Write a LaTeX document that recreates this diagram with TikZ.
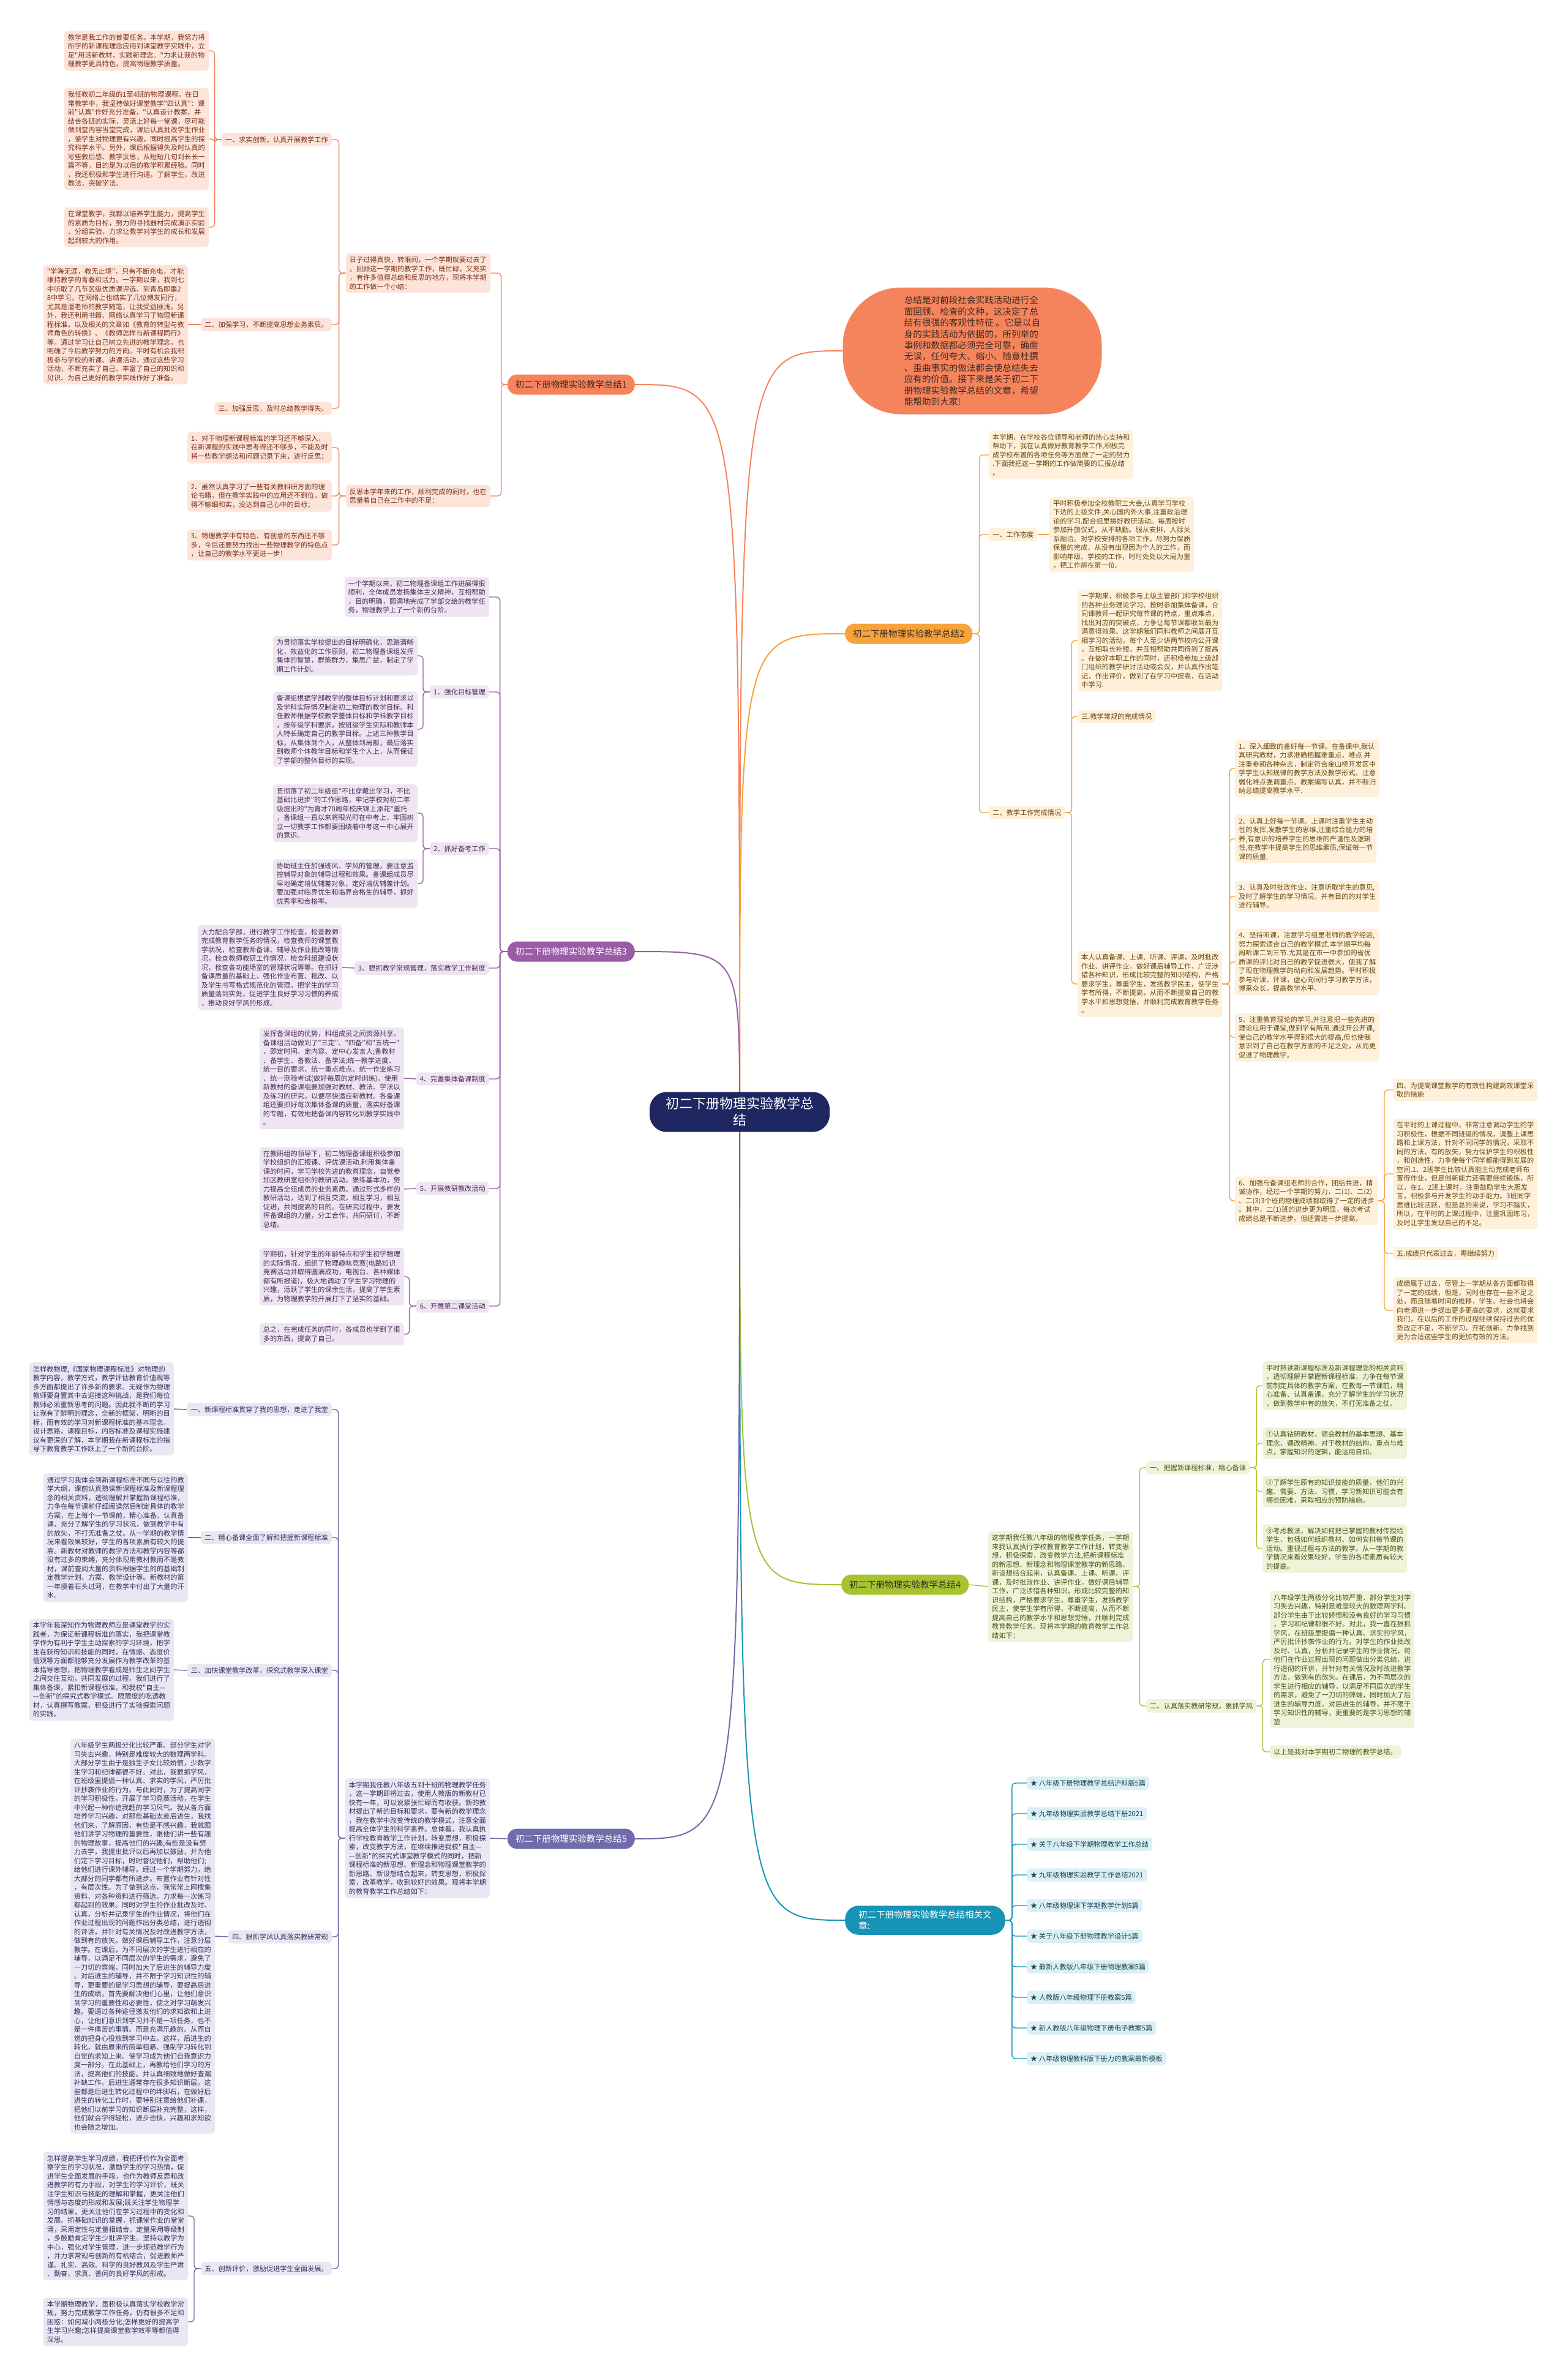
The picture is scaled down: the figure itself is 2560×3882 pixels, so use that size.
\documentclass[tikz,border=0pt]{standalone}
\usepackage{fontspec}
\setmainfont{Noto Sans CJK SC}
\newfontfamily\cjk{Noto Sans CJK SC}
\pgfdeclarelayer{background}
\pgfsetlayers{background,main}
\definecolor{rootc}{HTML}{1E2761}
\definecolor{c1}{HTML}{F5845C}\definecolor{c1f}{HTML}{FDE4DA}\definecolor{c1t}{HTML}{7A3218}
\definecolor{c2}{HTML}{F7A33B}\definecolor{c2f}{HTML}{FEF0DA}\definecolor{c2t}{HTML}{6A4A10}
\definecolor{c3}{HTML}{9A5BA7}\definecolor{c3f}{HTML}{EFE5F2}\definecolor{c3t}{HTML}{4A2B55}
\definecolor{c4}{HTML}{A6C430}\definecolor{c4f}{HTML}{EEF3D9}\definecolor{c4t}{HTML}{4C5514}
\definecolor{c5}{HTML}{706BAA}\definecolor{c5f}{HTML}{E8E7F3}\definecolor{c5t}{HTML}{33335C}
\definecolor{c6}{HTML}{1794B5}\definecolor{c6f}{HTML}{DAF0F6}\definecolor{c6t}{HTML}{1D4250}
\definecolor{darktx}{HTML}{3C2A22}
\tikzset{
  box/.style={rounded corners=5pt, align=left, inner xsep=6pt, inner ysep=5.5pt, font=\cjk\fontsize{11.2}{14.5}\selectfont},
  topic/.style={rounded corners=16pt, inner xsep=13pt, inner ysep=8pt, minimum height=33pt, font=\cjk\fontsize{14.5}{18}\selectfont},
  box1/.style={box, fill=c1f, text=c1t},
  box2/.style={box, fill=c2f, text=c2t},
  box3/.style={box, fill=c3f, text=c3t},
  box4/.style={box, fill=c4f, text=c4t},
  box5/.style={box, fill=c5f, text=c5t},
  box6/.style={box, fill=c6f, text=c6t},
  curve/.style={line width=2pt},
  link/.style={line width=1.4pt, rounded corners=6pt}
}
\begin{document}
\begin{tikzpicture}[x=1pt, y=-1pt]
\useasboundingbox (0,0) rectangle (2560,3882);

% centre
\node[fill=rootc, text=white, rounded corners=28pt, align=center, inner xsep=26pt, inner ysep=9pt, font=\cjk\fontsize{22}{27}\selectfont] (root) at (1208,1816) {初二下册物理实验教学总\\结};

% intro
\node[fill=c1, text=darktx, rounded corners=95pt, align=left, minimum width=423pt, minimum height=207pt, font=\cjk\fontsize{14.6}{18.4}\selectfont] (intro) at (1588,573) {总结是对前段社会实践活动进行全\\面回顾、检查的文种，这决定了总\\结有很强的客观性特征 。它是以自\\身的实践活动为依据的，所列举的\\事例和数据都必须完全可靠，确凿\\无误，任何夸大、缩小、随意杜撰\\、歪曲事实的做法都会使总结失去\\应有的价值。接下来是关于初二下\\册物理实验教学总结的文章，希望\\能帮助到大家!};

% branch 1
\node[topic, fill=c1, text=darktx, anchor=east] (b1) at (1037,628) {初二下册物理实验教学总结1};
\node[box1, anchor=east] (b1a) at (801,446) {日子过得真快，转眼间，一个学期就要过去了\\。回顾这一学期的教学工作，既忙碌，又充实\\，有许多值得总结和反思的地方，现将本学期\\的工作做一个小结：};
\node[box1, anchor=east] (b1a1) at (542,228) {一、求实创新，认真开展教学工作};
\node[box1, anchor=east] (b1a1a) at (341,83) {教学是我工作的首要任务。本学期，我努力将\\所学的新课程理念应用到课堂教学实践中，立\\足"用活新教材，实践新理念。"力求让我的物\\理教学更具特色，提高物理教学质量。};
\node[box1, anchor=east] (b1a1b) at (341,227) {我任教初二年级的1至4班的物理课程。在日\\常教学中，我坚持做好课堂教学"四认真"：课\\前"认真"作好充分准备，"认真设计教案，并\\结合各班的实际，灵活上好每一堂课，尽可能\\做到堂内容当堂完成，课后认真批改学生作业\\，使学生对物理更有兴趣，同时提高学生的探\\究科学水平。另外，课后根据得失及时认真的\\写些教后感、教学反思，从短短几句到长长一\\篇不等，目的是为以后的教学积累经验。同时\\，我还积极和学生进行沟通，了解学生，改进\\教法，突破学法。};
\node[box1, anchor=east] (b1a1c) at (341,371) {在课堂教学，我都以培养学生能力，提高学生\\的素质为目标，努力的寻找器材完成演示实验\\、分组实验，力求让教学对学生的成长和发展\\起到较大的作用。};
\node[box1, anchor=east] (b1a2) at (542,530) {二、加强学习，不断提高思想业务素质。};
\node[box1, anchor=east] (b1a2a) at (307,530) {"学海无涯，教无止境"，只有不断充电，才能\\维持教学的青春和活力。一学期以来，我到七\\中听取了几节区级优质课评选、到青岛即墨2\\8中学习，在网络上也结实了几位博友同行，\\尤其是潘老师的教学随笔，让我受益匪浅。另\\外，我还利用书籍、网络认真学习了物理新课\\程标准，以及相关的文章如《教育的转型与教\\师角色的转换》、《教师怎样与新课程同行》\\等。通过学习让自己树立先进的教学理念，也\\明确了今后教学努力的方向。平时有机会我积\\极参与学校的听课、讲课活动，通过这些学习\\活动，不断充实了自己、丰富了自己的知识和\\见识、为自己更好的教学实践作好了准备。};
\node[box1, anchor=east] (b1a3) at (542,667) {三、加强反思，及时总结教学得失。};
\node[box1, anchor=east] (b1b) at (801,810) {反思本学年来的工作，顺利完成的同时，也在\\思量着自己在工作中的不足：};
\node[box1, anchor=east] (b1b1) at (542,731) {1、对于物理新课程标准的学习还不够深入，\\在新课程的实践中思考得还不够多，不能及时\\将一些教学想法和问题记录下来，进行反思；};
\node[box1, anchor=east] (b1b2) at (542,810) {2、虽然认真学习了一些有关教科研方面的理\\论书籍，但在教学实践中的应用还不到位，做\\得不够细和实，没达到自己心中的目标；};
\node[box1, anchor=east] (b1b3) at (542,890) {3、物理教学中有特色、有创意的东西还不够\\多，今后还要努力找出一些物理教学的特色点\\，让自己的教学水平更进一步！};

% branch 2
\node[topic, fill=c2, text=darktx, anchor=west] (b2) at (1380,1035) {初二下册物理实验教学总结2};
\node[box2, anchor=west] (b2a) at (1615,743) {本学期，在学校各位领导和老师的热心支持和\\帮助下，我在认真做好教育教学工作,积极完\\成学校布置的各项任务等方面做了一定的努力\\.下面我把这一学期的工作做简要的汇报总结\\。};
\node[box2, anchor=west] (b2b) at (1615,873) {一、工作态度};
\node[box2, anchor=west] (b2b1) at (1714,873) {平时积极参加全校教职工大会,认真学习学校\\下达的上级文件,关心国内外大事,注重政治理\\论的学习.配合组里搞好教研活动。每周按时\\参加升旗仪式，从不缺勤。服从安排，人际关\\系融洽。对学校安排的各项工作，尽努力保质\\保量的完成，从没有出现因为个人的工作，而\\影响年级、学校的工作，时时处处以大局为重\\，把工作房在第一位。};
\node[box2, anchor=west] (b2c) at (1615,1327) {二、教学工作完成情况};
\node[box2, anchor=west] (b2c1) at (1760,1046) {一学期来，积极参与上级主管部门和学校组织\\的各种业务理论学习、按时参加集体备课，合\\同课教师一起研究每节课的特点，重点难点，\\找出对应的突破点，力争让每节课都收到最为\\满意得效果、这学期我们同科教师之间展开互\\相学习的活动，每个人至少讲两节校内公开课\\，互相取长补短，并互相帮助共同得到了提高\\。在做好本职工作的同时，还积极参加上级部\\门组织的教学研讨活动或会议，并认真作出笔\\记，作出评价，做到了在学习中提高，在活动\\中学习.};
\node[box2, anchor=west] (b2c2) at (1760,1170) {三.教学常规的完成情况};
\node[box2, anchor=west] (b2c3) at (1760,1607) {本人认真备课、上课、听课、评课，及时批改\\作业、讲评作业，做好课后辅导工作，广泛涉\\猎各种知识，形成比较完整的知识结构，严格\\要求学生，尊重学生，发扬教学民主，使学生\\学有所得，不断提高，从而不断提高自己的教\\学水平和思想觉悟，并顺利完成教育教学任务\\。};
\node[box2, anchor=west] (b2d1) at (2017,1255) {1、深入细致的备好每一节课。在备课中,我认\\真研究教材，力求准确把握难重点，难点.并\\注重参阅各种杂志，制定符合金山桥开发区中\\学学生认知规律的教学方法及教学形式。注意\\弱化难点强调重点。教案编写认真，并不断归\\纳总结提高教学水平.};
\node[box2, anchor=west] (b2d2) at (2017,1370) {2、认真上好每一节课。上课时注重学生主动\\性的发挥,发散学生的思维,注重综合能力的培\\养,有意识的培养学生的思维的严谨性及逻辑\\性,在教学中提高学生的思维素质,保证每一节\\课的质量.};
\node[box2, anchor=west] (b2d3) at (2017,1464) {3、认真及时批改作业，注意听取学生的意见,\\及时了解学生的学习情况，并有目的的对学生\\进行辅导。};
\node[box2, anchor=west] (b2d4) at (2017,1571) {4、坚持听课，注意学习组里老师的教学经验,\\努力探索适合自己的教学模式.本学期平均每\\周听课二到三节.尤其是在市一中参加的省优\\质课的评比对自己的教学促进很大，使我了解\\了现在物理教学的动向和发展趋势。平时积极\\参与听课、评课，虚心向同行学习教学方法，\\博采众长，提高教学水平。};
\node[box2, anchor=west] (b2d5) at (2017,1694) {5、注重教育理论的学习,并注意把一些先进的\\理论应用于课堂,做到学有所用.通过开公开课,\\使自己的教学水平得到很大的提高,但也使我\\意识到了自己在教学方面的不足之处，从而更\\促进了物理教学。};
\node[box2, anchor=west] (b2d6) at (2017,1961) {6、加强与备课组老师的合作，团结共进，精\\诚协作，经过一个学期的努力，二(1)、二(2)\\、二(3)3个班的物理成绩都取得了一定的进步\\。其中，二(1)班的进步更为明显，每次考试\\成绩总是不断进步。但还需进一步提高。};
\node[box2, anchor=west] (b2e1) at (2275,1780) {四、为提高课堂教学的有效性构建高效课堂采\\取的措施};
\node[box2, anchor=west] (b2e2) at (2275,1917) {在平时的上课过程中，非常注意调动学生的学\\习积极性，根据不同班级的情况，调整上课思\\路和上课方法，针对不同同学的情况，采取不\\同的方法，有的放矢，努力保护学生的积极性\\，和创造性，力争使每个同学都能得到发展的\\空间.1、2班学生比较认真能主动完成老师布\\置得作业，但是创新能力还需要继续锻炼，所\\以，在1、2班上课时，注重鼓励学生大胆发\\言，积极参与开发学生的动手能力。3班同学\\思维比较活跃，但是总的来说，学习不踏实，\\所以，在平时的上课过程中，注重巩固练习，\\及时让学生发现自己的不足。};
\node[box2, anchor=west] (b2e3) at (2275,2047) {五.成绩只代表过去，需继续努力};
\node[box2, anchor=west] (b2e4) at (2275,2140) {成绩属于过去，尽管上一学期从各方面都取得\\了一定的成绩，但是，同时也存在一些不足之\\处，而且随着时间的推移，学生、社会也将会\\向老师进一步提出更多更高的要求，这就要求\\我们，在以后的工作的过程继续保持过去的优\\势改正不足，不断学习，开拓创新，力争找到\\更为合适这些学生的更加有效的方法。};

% branch 3
\node[topic, fill=c3, text=white, anchor=east] (b3) at (1037,1554) {初二下册物理实验教学总结3};
\node[box3, anchor=east] (b3a) at (799,975) {一个学期以来，初二物理备课组工作进展得很\\顺利，全体成员发扬集体主义精神，互相帮助\\，目的明确，圆满地完成了学部交给的教学任\\务，物理教学上了一个新的台阶。};
\node[box3, anchor=east] (b3b) at (799,1130) {1、强化目标管理};
\node[box3, anchor=east] (b3b1) at (682,1071) {为贯彻落实学校提出的目标明确化，思路清晰\\化，效益化的工作原则，初二物理备课组发挥\\集体的智慧，群策群力，集思广益，制定了学\\期工作计划。};
\node[box3, anchor=east] (b3b2) at (682,1191) {备课组根据学部教学的整体目标计划和要求以\\及学科实际情况制定初二物理的教学目标。科\\任教师根据学校教学整体目标和学科教学目标\\，按年级学科要求，按班级学生实际和教师本\\人特长确定自己的教学目标。上述三种教学目\\标，从集体到个人，从整体到局部，最后落实\\到教师个体教学目标和学生个人上，从而保证\\了学部的整体目标的实现。};
\node[box3, anchor=east] (b3c) at (799,1386) {2、抓好备考工作};
\node[box3, anchor=east] (b3c1) at (682,1328) {贯彻落了初二年级组"不比穿戴比学习，不比\\基础比进步"的工作思路，牢记学校对初二年\\级提出的"为育才70周年校庆锦上添花"重托\\，备课组一直以来将眼光盯在中考上，牢固树\\立一切教学工作都要围绕着中考这一中心展开\\的意识。};
\node[box3, anchor=east] (b3c2) at (682,1443) {协助班主任加强班风、学风的管理，要注意监\\控辅导对象的辅导过程和效果。备课组成员尽\\早地确定培优辅差对象，定好培优辅差计划。\\要加强对临界优生和临界合格生的辅导，抓好\\优秀率和合格率。};
\node[box3, anchor=east] (b3d) at (799,1581) {3、狠抓教学常规管理，落实教学工作制度};
\node[box3, anchor=east] (b3d1) at (559,1580) {大力配合学部，进行教学工作检查，检查教师\\完成教育教学任务的情况，检查教师的课堂教\\学状况，检查教师备课、辅导及作业批改等情\\况，检查教师教研工作情况，检查科组建设状\\况，检查各功能场室的管理状况等等。在抓好\\备课质量的基础上，强化作业布置、批改、以\\及学生书写格式规范化的管理。把学生的学习\\质量落到实处，促进学生良好学习习惯的养成\\，推动良好学风的形成。};
\node[box3, anchor=east] (b3e) at (799,1762) {4、完善集体备课制度};
\node[box3, anchor=east] (b3e1) at (660,1761) {发挥备课组的优势，科组成员之间资源共享。\\备课组活动做到了"三定"、"四备"和"五统一"\\，即定时间、定内容、定中心发言人;备教材\\、备学生、备教法、备学法;统一教学进度、\\统一目的要求、统一重点难点、统一作业练习\\、统一测验考试(做好每周的定时训练)。使用\\新教材的备课组要加强对教材、教法、学法以\\及练习的研究，以便尽快适应新教材。各备课\\组还要抓好每次集体备课的质量，落实好备课\\的专题，有效地把备课内容转化到教学实践中\\。};
\node[box3, anchor=east] (b3f) at (799,1941) {5、开展教研教改活动};
\node[box3, anchor=east] (b3f1) at (660,1942) {在教研组的领导下，初二物理备课组积极参加\\学校组织的汇报课、评优课活动.利用集体备\\课的时间，学习学校先进的教育理念，自觉参\\加区教研室组织的教研活动，狠练基本功，努\\力提高全组成员的业务素质。通过形式多样的\\教研活动，达到了相互交流，相互学习，相互\\促进，共同提高的目的。在研究过程中，要发\\挥备课组的力量，分工合作，共同研讨，不断\\总结。};
\node[box3, anchor=east] (b3g) at (799,2133) {6、开展第二课堂活动};
\node[box3, anchor=east] (b3g1) at (660,2085) {学期初，针对学生的年龄特点和学生初学物理\\的实际情况，组织了物理趣味竞赛(电路知识\\竞赛活动并取得圆满成功，电视台、各种媒体\\都有所报道)，极大地调动了学生学习物理的\\兴趣，活跃了学生的课余生活，提高了学生素\\质，为物理教学的开展打下了坚实的基础。};
\node[box3, anchor=east] (b3g2) at (660,2179) {总之，在完成任务的同时，各成员也学到了很\\多的东西，提高了自己。};

% branch 4
\node[topic, fill=c4, text=darktx, anchor=west] (b4) at (1374,2588) {初二下册物理实验教学总结4};
\node[box4, anchor=west] (b4a) at (1614,2591) {这学期我任教八年级的物理教学任务，一学期\\来我认真执行学校教育教学工作计划，转变思\\想，积极探索，改变教学方法,把新课程标准\\的新思想、新理念和物理课堂教学的新思路、\\新设想结合起来，认真备课、上课、听课、评\\课，及时批改作业、讲评作业，做好课后辅导\\工作，广泛涉猎各种知识，形成比较完整的知\\识结构，严格要求学生，尊重学生，发扬教学\\民主，使学生学有所得，不断提高，从而不断\\提高自己的教学水平和思想觉悟，并顺利完成\\教育教学任务。现将本学期的教育教学工作总\\结如下：};
\node[box4, anchor=west] (b4b) at (1872,2397) {一、把握新课程标准，精心备课};
\node[box4, anchor=west] (b4b1) at (2062,2263) {平时熟读新课程标准及新课程理念的相关资料\\，透彻理解并掌握新课程标准，力争在每节课\\前制定具体的教学方案，在教每一节课前，精\\心准备、认真备课，充分了解学生的学习状况\\，做到教学中有的放矢，不打无准备之仗。};
\node[box4, anchor=west] (b4b2) at (2062,2357) {①认真钻研教材，领会教材的基本思想、基本\\理念，课改精神。对于教材的结构，重点与难\\点，掌握知识的逻辑，能运用自如。};
\node[box4, anchor=west] (b4b3) at (2062,2436) {②了解学生原有的知识技能的质量，他们的兴\\趣、需要、方法、习惯，学习新知识可能会有\\哪些困难，采取相应的预防措施。};
\node[box4, anchor=west] (b4b4) at (2062,2529) {③考虑教法，解决如何把已掌握的教材传授给\\学生，包括如何组织教材、如何安排每节课的\\活动。重视过程与方法的教学。从一学期的教\\学情况来看效果较好，学生的各项素质有较大\\的提高。};
\node[box4, anchor=west] (b4c) at (1872,2786) {二、认真落实教研常规，狠抓学风};
\node[box4, anchor=west] (b4c1) at (2074,2710) {八年级学生两极分化比较严重、部分学生对学\\习失去兴趣，特别是难度较大的数理两学科。\\部分学生由于比较娇惯和没有良好的学习习惯\\，学习和纪律都很不好。对此，我一直在狠抓\\学风，在班级里提倡一种认真、求实的学风，\\严厉批评抄袭作业的行为。对学生的作业批改\\及时、认真，分析并记录学生的作业情况，将\\他们在作业过程出现的问题做出分类总结，进\\行透彻的评讲，并针对有关情况及时改进教学\\方法，做到有的放矢。在课后，为不同层次的\\学生进行相应的辅导，以满足不同层次的学生\\的需求，避免了一刀切的弊端，同时加大了后\\进生的辅导力度。对后进生的辅导，并不限于\\学习知识性的辅导，更重要的是学习思想的辅\\垫};
\node[box4, anchor=west] (b4c2) at (2074,2861) {以上是我对本学期初二物理的教学总结。};

% branch 5
\node[topic, fill=c5, text=white, anchor=east] (b5) at (1037,3003) {初二下册物理实验教学总结5};
\node[box5, anchor=east] (b5a) at (800,3002) {本学期我任教八年级五到十班的物理教学任务\\，这一学期即将过去，使用人教版的新教材已\\快有一年，可以说紧张忙碌而有收获。新的教\\材提出了新的目标和要求，要有新的教学理念\\，我在教学中改变传统的教学模式，注意全面\\提高全体学生的科学素养。总体看，我认真执\\行学校教育教学工作计划，转变思想，积极探\\索，改变教学方法，在继续推进我校"自主—\\—创新"的探究式课堂教学模式的同时，把新\\课程标准的新思想、新理念和物理课堂教学的\\新思路、新设想结合起来，转变思想，积极探\\索，改革教学，收到较好的效果。现将本学期\\的教育教学工作总结如下：};
\node[box5, anchor=east] (b5b) at (542,2302) {一、新课程标准贯穿了我的思想，走进了我堂};
\node[box5, anchor=east] (b5b1) at (284,2301) {怎样教物理,《国家物理课程标准》对物理的\\教学内容，教学方式，教学评估教育价值观等\\多方面都提出了许多新的要求。无疑作为物理\\教师要身置其中去迎接这种挑战，是我们每位\\教师必须重新思考的问题。因此我不断的学习\\让我有了鲜明的理念，全新的框架，明晰的目\\标，而有效的学习对新课程标准的基本理念，\\设计思路，课程目标，内容标准及课程实施建\\议有更深的了解，本学期我在新课程标准的指\\导下教育教学工作跃上了一个新的台阶。};
\node[box5, anchor=east] (b5c) at (542,2511) {二、精心备课全面了解和把握新课程标准};
\node[box5, anchor=east] (b5c1) at (307,2511) {通过学习我体会到新课程标准不同与以往的教\\学大纲，课前认真熟读新课程标准及新课程理\\念的相关资料，透彻理解并掌握新课程标准，\\力争在每节课前仔细阅读然后制定具体的教学\\方案，在上每个一节课前，精心准备、认真备\\课，充分了解学生的学习状况，做到教学中有\\的放矢，不打无准备之仗。从一学期的教学情\\况来看效果较好，学生的各项素质有较大的提\\高。新教材对教师的教学方法和教学内容等都\\没有过多的束缚，充分体现用教材教而不是教\\材，课前查阅大量的资料根据学生的的基础制\\定教学计划、方案、教学设计等。新教材的第\\一年摸着石头过河，在教学中付出了大量的汗\\水。};
\node[box5, anchor=east] (b5d) at (542,2728) {三、加快课堂教学改革，探究式教学深入课堂};
\node[box5, anchor=east] (b5d1) at (284,2727) {本学年我深知作为物理教师应是课堂教学的实\\践者，为保证新课程标准的落实，我把课堂教\\学作为有利于学生主动探索的学习环境，把学\\生在获得知识和技能的同时，在情感、态度价\\值观等方面都能够充分发展作为教学改革的基\\本指导思想，把物理教学看成是师生之间学生\\之间交往互动，共同发展的过程，我们进行了\\集体备课，紧扣新课程标准，和我校"自主—\\—创新"的探究式教学模式。限限度的吃透教\\材，认真撰写教案，积极进行了实验探索问题\\的实践。};
\node[box5, anchor=east] (b5e) at (542,3163) {四、狠抓学风认真落实教研常规};
\node[box5, anchor=east] (b5e1) at (351,3162) {八年级学生两极分化比较严重、部分学生对学\\习失去兴趣，特别是难度较大的数理两学科。\\大部分学生由于是独生子女比较娇惯，少数学\\生学习和纪律都很不好。对此，我狠抓学风，\\在班级里提倡一种认真、求实的学风，严厉批\\评抄袭作业的行为。与此同时，为了提高同学\\的学习积极性，开展了学习竞赛活动，在学生\\中兴起一种你追我赶的学习风气。我从各方面\\培养学习兴趣，对那些基础太差后进生，我找\\他们来，了解原因，有些是不感兴趣，我就跟\\他们讲学习物理的重要性，跟他们讲一些有趣\\的物理故事，提高他们的兴趣;有些是没有努\\力去学，我提出批评以后再加以鼓励，并为他\\们定下学习目标，时时督促他们，帮助他们;\\给他们进行课外辅导。经过一个学期努力，绝\\大部分的同学都有所进步。布置作业有针对性\\，有层次性。为了做到这点，我常常上网搜集\\资料，对各种资料进行筛选，力求每一次练习\\都起到的效果。同时对学生的作业批改及时、\\认真，分析并记录学生的作业情况，将他们在\\作业过程出现的问题作出分类总结，进行透彻\\的评讲，并针对有关情况及时改进教学方法，\\做到有的放矢。做好课后辅导工作，注意分层\\教学。在课后，为不同层次的学生进行相应的\\辅导，以满足不同层次的学生的需求，避免了\\一刀切的弊端，同时加大了后进生的辅导力度\\。对后进生的辅导，并不限于学习知识性的辅\\导，更重要的是学习思想的辅导，要提高后进\\生的成绩，首先要解决他们心里，让他们意识\\到学习的重要性和必要性，使之对学习萌发兴\\趣。要通过各种途径激发他们的求知欲和上进\\心，让他们意识到学习并不是一项任务，也不\\是一件痛苦的事情。而是充满乐趣的。从而自\\觉的把身心投放到学习中去。这样，后进生的\\转化，就由原来的简单粗暴、强制学习转化到\\自觉的求知上来。使学习成为他们自我意识力\\度一部分。在此基础上，再教给他们学习的方\\法，提高他们的技能。并认真细致地做好查漏\\补缺工作。后进生通常存在很多知识断层，这\\些都是后进生转化过程中的绊脚石，在做好后\\进生的转化工作时，要特别注意给他们补课，\\把他们以前学习的知识断层补充完整，这样，\\他们就会学得轻松，进步也快，兴趣和求知欲\\也会随之增加。};
\node[box5, anchor=east] (b5f) at (542,3705) {五、创新评价，激励促进学生全面发展。};
\node[box5, anchor=east] (b5f1) at (307,3619) {怎样提高学生学习成绩，我把评价作为全面考\\察学生的学习状况，激励学生的学习热情，促\\进学生全面发展的手段，也作为教师反思和改\\进教学的有力手段，对学生的学习评价，既关\\注学生知识与技能的理解和掌握，更关注他们\\情感与态度的形成和发展;既关注学生物理学\\习的结果，更关注他们在学习过程中的变化和\\发展。抓基础知识的掌握，抓课堂作业的堂堂\\清，采用定性与定量相结合，定量采用等级制\\，多鼓励肯定学生少批评学生。坚持以教学为\\中心，强化对学生管理，进一步规范教学行为\\，并力求常规与创新的有机结合，促进教师严\\谨、扎实、高效、科学的良好教风及学生严肃\\、勤奋、求真、善问的良好学风的形成。};
\node[box5, anchor=east] (b5f2) at (307,3792) {本学期物理教学，虽积极认真落实学校教学常\\规，努力完成教学工作任务，仍有很多不足和\\困惑：如何减小两极分化;怎样更好的提高学\\生学习兴趣;怎样提高课堂教学效率等都值得\\深思。};

% branch 6: related articles
\node[topic, fill=c6, text=white, align=left, rounded corners=22pt, inner xsep=22pt, anchor=west] (b6) at (1380,3136) {初二下册物理实验教学总结相关文\\章:};
\foreach \t [count=\i] in {八年级下册物理教学总结沪科版5篇, 九年级物理实验教学总结下册2021, 关于八年级下学期物理教学工作总结, 九年级物理实验教学工作总结2021, 八年级物理课下学期教学计划5篇, 关于八年级下册物理教学设计5篇, 最新人教版八年级下册物理教案5篇, 人教版八年级物理下册教案5篇, 新人教版八年级物理下册电子教案5篇, 八年级物理教科版下册力的教案最新模板}
  \node[box6, anchor=west] (b6r\i) at (1677,2862+50*\i) {★ \t};

% connectors
\begin{pgfonlayer}{background}
\draw[curve, c1] (root.center) .. controls (root.center |- intro.west) .. (intro.west);
\draw[curve, c1] (root.center) .. controls (root.center |- b1.east) .. (b1.east);
\draw[curve, c2] (root.center) .. controls (root.center |- b2.west) .. (b2.west);
\draw[curve, c3] (root.center) .. controls (root.center |- b3.east) .. (b3.east);
\draw[curve, c4] (root.center) .. controls (root.center |- b4.west) .. (b4.west);
\draw[curve, c5] (root.center) .. controls (root.center |- b5.east) .. (b5.east);
\draw[curve, c6] (root.center) .. controls (root.center |- b6.west) .. (b6.west);

\foreach \c in {b1a,b1b} \draw[link, c1] (b1.west) -- ++(-10,0) |- (\c.east);
\foreach \c in {b1a1,b1a2,b1a3} \draw[link, c1] (b1a.west) -- ++(-11,0) |- (\c.east);
\foreach \c in {b1a1a,b1a1b,b1a1c} \draw[link, c1] (b1a1.west) -- ++(-11,0) |- (\c.east);
\draw[link, c1] (b1a2.west) -- (b1a2a.east);
\foreach \c in {b1b1,b1b2,b1b3} \draw[link, c1] (b1b.west) -- ++(-11,0) |- (\c.east);

\foreach \c in {b2a,b2b,b2c} \draw[link, c2] (b2.east) -- ++(11,0) |- (\c.west);
\draw[link, c2] (b2b.east) -- (b2b1.west);
\foreach \c in {b2c1,b2c2,b2c3} \draw[link, c2] (b2c.east) -- ++(11,0) |- (\c.west);
\foreach \c in {b2d1,b2d2,b2d3,b2d4,b2d5,b2d6} \draw[link, c2] (b2c3.east) -- ++(12,0) |- (\c.west);
\foreach \c in {b2e1,b2e2,b2e3,b2e4} \draw[link, c2] (b2d6.east) -- ++(10,0) |- (\c.west);

\foreach \c in {b3a,b3b,b3c,b3d,b3e,b3f,b3g} \draw[link, c3] (b3.west) -- ++(-12,0) |- (\c.east);
\foreach \c in {b3b1,b3b2} \draw[link, c3] (b3b.west) -- ++(-11,0) |- (\c.east);
\foreach \c in {b3c1,b3c2} \draw[link, c3] (b3c.west) -- ++(-11,0) |- (\c.east);
\draw[link, c3] (b3d.west) -- (b3d1.east);
\draw[link, c3] (b3e.west) -- (b3e1.east);
\draw[link, c3] (b3f.west) -- (b3f1.east);
\foreach \c in {b3g1,b3g2} \draw[link, c3] (b3g.west) -- ++(-11,0) |- (\c.east);

\draw[link, c4] (b4.east) -- (b4a.west);
\foreach \c in {b4b,b4c} \draw[link, c4] (b4a.east) -- ++(11,0) |- (\c.west);
\foreach \c in {b4b1,b4b2,b4b3,b4b4} \draw[link, c4] (b4b.east) -- ++(11,0) |- (\c.west);
\foreach \c in {b4c1,b4c2} \draw[link, c4] (b4c.east) -- ++(10,0) |- (\c.west);

\draw[link, c5] (b5.west) -- (b5a.east);
\foreach \c in {b5b,b5c,b5d,b5e,b5f} \draw[link, c5] (b5a.west) -- ++(-11,0) |- (\c.east);
\draw[link, c5] (b5b.west) -- (b5b1.east);
\draw[link, c5] (b5c.west) -- (b5c1.east);
\draw[link, c5] (b5d.west) -- (b5d1.east);
\draw[link, c5] (b5e.west) -- (b5e1.east);
\foreach \c in {b5f1,b5f2} \draw[link, c5] (b5f.west) -- ++(-11,0) |- (\c.east);

\foreach \i in {1,...,10} \draw[link, c6] (b6.east) -- ++(11,0) |- (b6r\i.west);
\end{pgfonlayer}
\end{tikzpicture}
\end{document}
